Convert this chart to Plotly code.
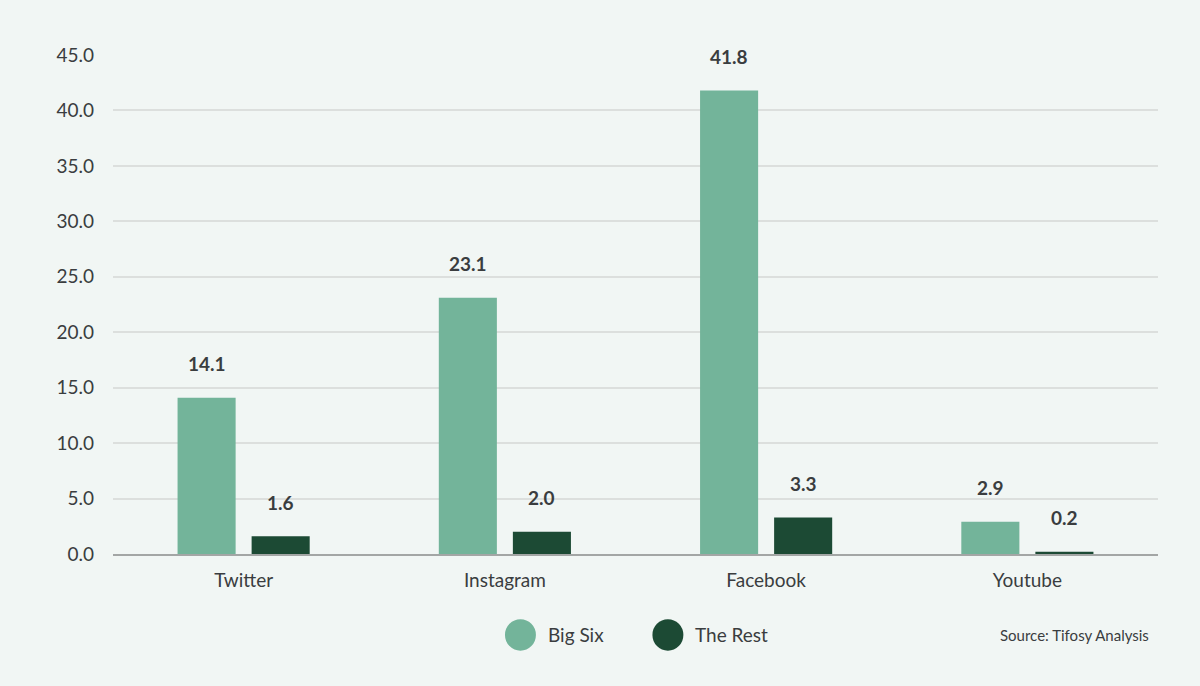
import plotly.graph_objects as go

categories = ["Twitter", "Instagram", "Facebook", "Youtube"]
big_six = [14.1, 23.1, 41.8, 2.9]
the_rest = [1.6, 2.0, 3.3, 0.2]
series_names = ["Big Six", "The Rest"]
source_text = "Source: Tifosy Analysis"

BG = "#f1f6f4"
C1 = "#73b49a"
C2 = "#1c4a34"
TXT = "#3a3d3f"
FONT = "Lato"

fig = go.Figure()
fig.add_trace(go.Bar(x=categories, y=big_six, name=series_names[0], marker_color=C1,
                     marker_line_width=0, showlegend=False, hoverinfo="skip"))
fig.add_trace(go.Bar(x=categories, y=the_rest, name=series_names[1], marker_color=C2,
                     marker_line_width=0, showlegend=False, hoverinfo="skip"))

annotations = []
for vals, shift in ((big_six, -37), (the_rest, 37)):
    for c, v in zip(categories, vals):
        annotations.append(dict(x=c, y=v, xref="x", yref="y", text=f"<b>{v:.1f}</b>",
                                showarrow=False, xshift=shift, yshift=34, yanchor="middle",
                                font=dict(family=FONT, size=19, color=TXT)))

# custom legend
legend_items = [(series_names[0], C1, 0.3899), (series_names[1], C2, 0.531)]
shapes = []
for name, col, xp in legend_items:
    shapes.append(dict(type="circle", xref="paper", yref="paper",
                       x0=xp - 0.0148, x1=xp + 0.0148, y0=-0.1623 - 0.0315, y1=-0.1623 + 0.0315,
                       fillcolor=col, line_width=0))
    annotations.append(dict(x=xp + 0.0245, y=-0.1623, xref="paper", yref="paper", text=name,
                            showarrow=False, xanchor="left", yanchor="middle",
                            font=dict(family=FONT, size=19, color=TXT)))
annotations.append(dict(x=0.9935, y=-0.1623, xref="paper", yref="paper", text=source_text,
                        showarrow=False, xanchor="right", yanchor="middle",
                        font=dict(family=FONT, size=15, color=TXT)))

fig.update_layout(
    width=1200, height=686,
    paper_bgcolor=BG, plot_bgcolor=BG,
    margin=dict(l=113, r=42, t=55, b=132),
    barmode="group", bargap=0.433, bargroupgap=0.216,
    font=dict(family=FONT, size=18, color=TXT),
    annotations=annotations, shapes=shapes,
    showlegend=False,
)
fig.update_yaxes(range=[0, 45], dtick=5, tickformat=".1f", gridcolor="#dcdfdd", gridwidth=1.5,
                 zeroline=False, showline=False, ticks="", ticklabelstandoff=18,
                 tickfont=dict(family=FONT, size=19, color=TXT))
fig.update_xaxes(showline=True, linecolor="#a3a6a5", linewidth=2, ticks="",
                 tickfont=dict(family=FONT, size=19, color=TXT), ticklabelstandoff=8)

fig.write_html("out.html", config={"displayModeBar": False},
               post_script="document.body.style.margin='0';document.body.style.background='%s';" % BG)
